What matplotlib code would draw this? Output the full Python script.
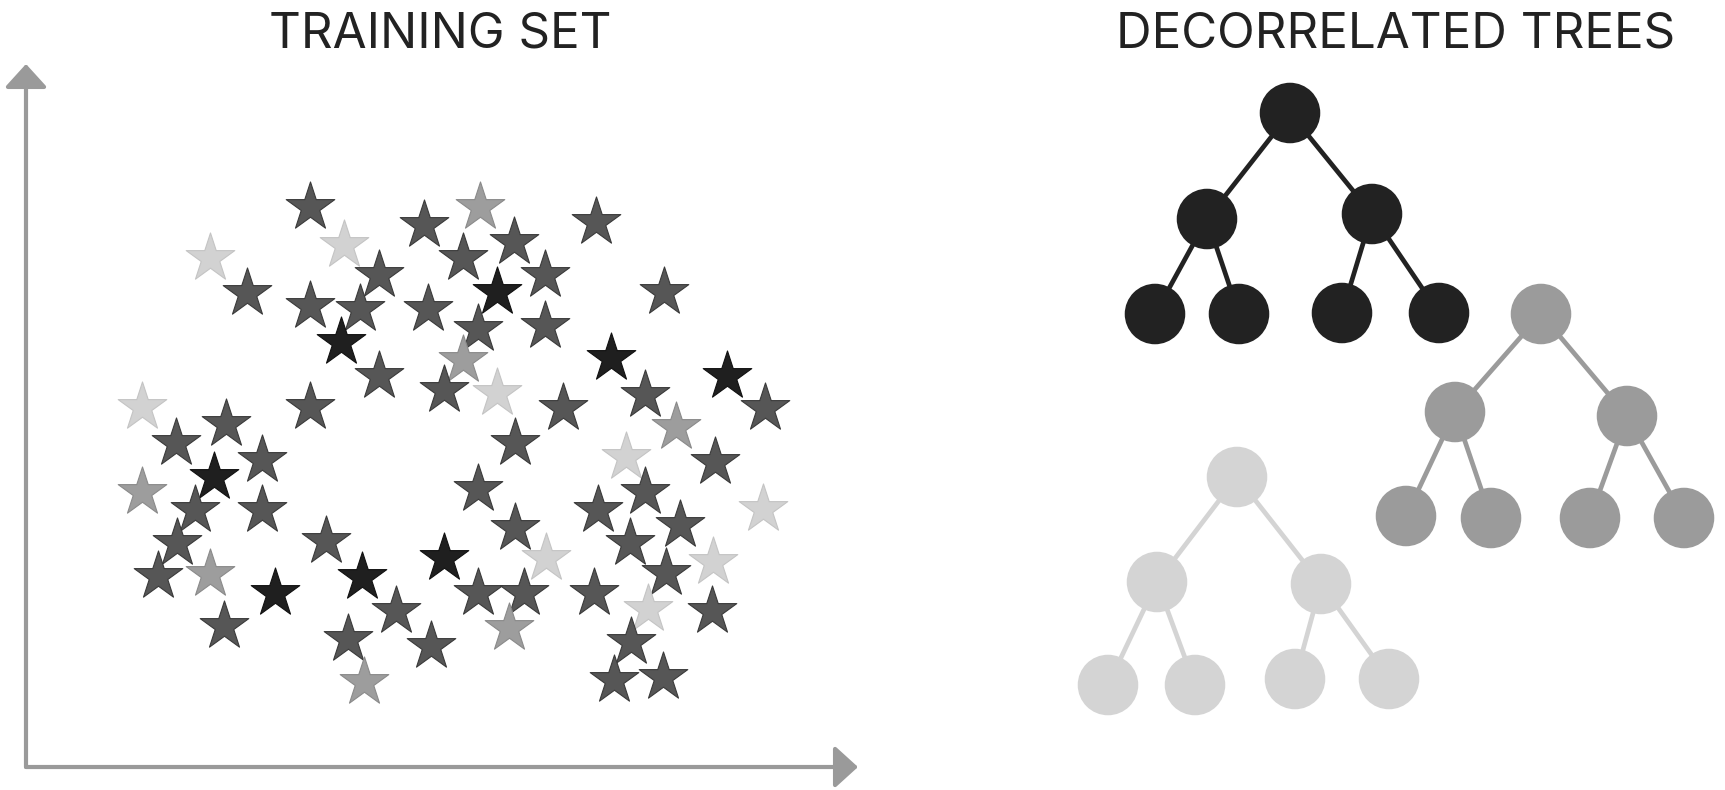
import matplotlib
matplotlib.use("Agg")
import matplotlib.pyplot as plt

# star scatter (pixel coords of the reference, y down) and shade class
star_x = [310, 480, 424, 596, 344, 210, 514, 463, 379, 545, 247, 310, 360, 497, 428, 664,
          478, 545, 341, 463, 611, 379, 444, 497, 727, 310, 563, 645, 142, 226, 765, 676,
          176, 515, 626, 262, 715, 214, 142, 478, 645, 195, 262, 598, 763, 515, 680, 177,
          630, 326, 444, 546, 713, 666, 158, 210, 362, 275, 478, 524, 594, 648, 712, 396,
          224, 509, 348, 431, 631, 364, 614, 663]
star_y = [207, 207, 225, 222, 245, 258, 242, 258, 275, 275, 293, 306, 309, 292, 309, 292,
          329, 326, 342, 360, 358, 376, 390, 393, 376, 407, 408, 395, 407, 424, 408, 427,
          443, 443, 457, 460, 462, 477, 492, 489, 492, 510, 510, 510, 509, 528, 525, 543,
          543, 541, 558, 558, 562, 573, 576, 574, 577, 593, 593, 593, 593, 609, 611, 611,
          626, 628, 639, 646, 642, 682, 680, 677]
star_shade = list("DMDDLLDDDDDDDKDD"
                  "DDKMKDDLKDDDLDDM"
                  "DDLDDKMDDDDDLDDD"
                  "DDKLLDDMKKDDDLDD"
                  "DMDDDMDD")

shade_colors = {"K": "#1f1f1f", "D": "#565656", "M": "#9d9d9d", "L": "#d2d2d2"}
shade_edges = {"K": "#111111", "D": "#3a3a3a", "M": "#8a8a8a", "L": "#c4c4c4"}

# trees: node centres (root, level 2, level 3), colour
tree_names = ["dark", "mid", "light"]
tree_x = {"dark": [1290, 1207, 1372, 1155, 1239, 1342, 1439],
          "mid": [1541, 1455, 1627, 1406, 1491, 1590, 1684],
          "light": [1237, 1157, 1321, 1108, 1195, 1295, 1389]}
tree_y = {"dark": [113, 219, 214, 314, 314, 313, 313],
          "mid": [314, 412, 416, 516, 518, 518, 518],
          "light": [477, 582, 584, 685, 685, 679, 679]}
tree_color = {"dark": "#222222", "mid": "#9b9b9b", "light": "#d4d4d4"}
edges = [(0, 1), (0, 2), (1, 3), (1, 4), (2, 5), (2, 6)]

W, H = 1725, 790
fig = plt.figure(figsize=(W / 100, H / 100), dpi=100)
ax = fig.add_axes([0, 0, 1, 1])
ax.set_xlim(0, W)
ax.set_ylim(H, 0)
ax.axis("off")

# axes arrows
axcol = "#9a9a9a"
ox, oy = 26, 767
for tip in [(ox, 64), (858, oy)]:
    ax.annotate("", xy=tip, xytext=(ox, oy),
                arrowprops=dict(arrowstyle="-|>,head_length=0.55,head_width=0.5",
                                color=axcol, lw=3, shrinkA=0, shrinkB=0,
                                mutation_scale=26))

# stars
for x, y, c in zip(star_x, star_y, star_shade):
    ax.scatter([x], [y], marker="*", s=1350, color=shade_colors[c],
               edgecolors=shade_edges[c], linewidths=0.8, zorder=3)

# trees
for t in tree_names:
    xs, ys, col = tree_x[t], tree_y[t], tree_color[t]
    for a, b in edges:
        ax.plot([xs[a], xs[b]], [ys[a], ys[b]], color=col, lw=3.4, zorder=4,
                solid_capstyle="butt")
    ax.scatter(xs, ys, s=1900, color=col, edgecolors="none", zorder=5)

# titles
tfont = dict(fontsize=35.5, color="#222222", family=["Inter", "DejaVu Sans"],
             ha="center", va="baseline")
ax.text(440, 48, "TRAINING SET", **tfont)
ax.text(1396, 48, "DECORRELATED TREES", **tfont)

fig.savefig("out.png", dpi=100, facecolor="white")
